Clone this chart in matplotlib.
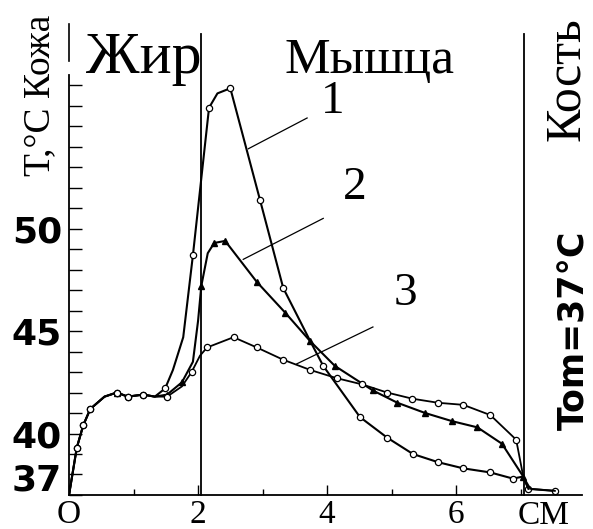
import matplotlib
matplotlib.use("Agg")
import matplotlib.pyplot as plt
from matplotlib.transforms import ScaledTranslation

# depth, cm  /  temperature, C
x1 = [0, 0.12, 0.22, 0.33, 0.55, 0.74, 0.91, 1.15, 1.33, 1.49, 1.61, 1.77, 1.92, 2.17, 2.3, 2.5,
      2.96, 3.32, 3.74, 3.94, 4.51, 4.93, 5.33, 5.72, 6.11, 6.53, 6.88, 7.04, 7.12, 7.53]
t1 = [37, 39.3, 40.4, 41.2, 41.8, 42.0, 41.8, 41.9, 41.8, 42.2, 43.1, 44.7, 48.7, 55.9, 56.6, 56.85,
      51.4, 47.1, 44.5, 43.3, 40.8, 39.8, 39.0, 38.6, 38.3, 38.1, 37.8, 37.9, 37.3, 37.2]
marks1 = [1, 2, 3, 5, 6, 7, 9, 12, 13, 15, 16, 17, 19, 20, 21, 22, 23, 24, 25, 26, 28, 29]

x2 = [0, 0.12, 0.22, 0.33, 0.55, 0.74, 0.91, 1.15, 1.33, 1.52, 1.75, 1.92, 2.0, 2.05, 2.15,
      2.25, 2.42, 2.91, 3.35, 3.74, 4.12, 4.71, 5.09, 5.52, 5.94, 6.33, 6.71, 7.04, 7.12]
t2 = [37, 39.3, 40.4, 41.2, 41.8, 42.0, 41.8, 41.9, 41.8, 41.9, 42.5, 43.5, 45.5, 47.2, 48.8,
      49.3, 49.4, 47.4, 45.9, 44.5, 43.3, 42.1, 41.5, 41.0, 40.6, 40.3, 39.5, 37.9, 37.3]
marks2 = [5, 9, 10, 13, 15, 16, 17, 18, 19, 20, 21, 22, 23, 24, 25, 26, 27]

x3 = [0, 0.12, 0.22, 0.33, 0.55, 0.74, 0.91, 1.15, 1.33, 1.52, 1.75, 1.9, 2.03, 2.14, 2.55,
      2.91, 3.32, 3.74, 4.15, 4.54, 4.93, 5.32, 5.72, 6.11, 6.53, 6.93, 7.04, 7.15, 7.53]
t3 = [37, 39.3, 40.4, 41.2, 41.8, 42.0, 41.8, 41.9, 41.8, 41.8, 42.3, 43.0, 43.8, 44.2, 44.7,
      44.2, 43.6, 43.1, 42.7, 42.4, 42.0, 41.7, 41.5, 41.4, 40.9, 39.7, 37.9, 37.3, 37.2]
marks3 = [1, 2, 3, 5, 6, 7, 9, 11, 13, 14, 15, 16, 17, 18, 19, 20, 21, 22, 23, 24, 25]

layer_bounds = [2.05, 7.05]
layer_names = ["Жир", "Мышца", "Кость"]
curve_ids = ["1", "2", "3"]

# leader lines for the curve numbers
leaders = [([2.78, 3.69], [53.9, 55.4]),
           ([2.70, 3.94], [48.5, 50.5]),
           ([3.53, 4.71], [43.4, 45.2])]
id_pos = [(4.09, 56.2), (4.43, 52.0), (5.21, 46.8)]

serif = "Liberation Serif"

fig = plt.figure(figsize=(5.93, 5.29), dpi=100)
ax = fig.add_axes([0.1164, 0.0643, 0.865, 0.794])

ax.plot(x1, t1, color="black", lw=1.5, marker="o", ms=4.5, mfc="white", mec="black", mew=0.9,
        markevery=marks1)
ax.plot(x2, t2, color="black", lw=1.5, marker="^", ms=5, mfc="black", mec="black",
        markevery=marks2)
ax.plot(x3, t3, color="black", lw=1.3, marker="o", ms=4.5, mfc="white", mec="black", mew=0.9,
        markevery=marks3)

for b in layer_bounds:
    ax.plot([b, b], [37, 59.5], color="black", lw=1.3, clip_on=False)
ax.plot([0, 0], [58.2, 60.0], color="black", lw=1.2, clip_on=False)

for (lx, lt), cid, (px, pt) in zip(leaders, curve_ids, id_pos):
    ax.plot(lx, lt, color="black", lw=0.9)
    ax.text(px, pt, cid, fontsize=34, family=serif, ha="center", va="center")

ax.set_xlim(0, 7.95)
ax.set_ylim(37, 57.5)
for s in ["top", "right"]:
    ax.spines[s].set_visible(False)
ax.spines["left"].set_linewidth(1.3)
ax.spines["bottom"].set_linewidth(1.3)

ax.set_yticks([37, 40, 45, 50])
ax.set_yticklabels(["37", "40", "45", "50"], fontsize=26, fontweight="bold", family="DejaVu Sans")
ax.set_yticks(range(38, 58), minor=True)
ax.tick_params(axis="y", which="both", direction="in", length=9, width=1.0, pad=5)
# the "37" label sits a little above the x axis
lab37 = ax.get_yticklabels()[0]
lab37.set_transform(lab37.get_transform() + ScaledTranslation(0, 13 / 72, fig.dpi_scale_trans))

ax.set_xticks([0, 2, 4, 6])
ax.set_xticklabels(["O", "2", "4", "6"], fontsize=24, family=serif)
ax.set_xticks([1, 3, 5, 7], minor=True)
ax.tick_params(axis="x", which="major", direction="in", length=7, width=1.0, pad=3)
ax.tick_params(axis="x", which="minor", direction="in", length=4, width=1.0)
ax.text(7.36, -0.012, "СМ", transform=ax.get_xaxis_transform(), fontsize=24, family=serif,
        ha="center", va="top")

ax.text(1.16, 57.6, layer_names[0], fontsize=43, family=serif, ha="center", va="baseline",
        clip_on=False)
ax.text(4.65, 57.6, layer_names[1], fontsize=37, family=serif, ha="center", va="baseline",
        clip_on=False)
ax.text(7.72, 57.3, layer_names[2], fontsize=36, family=serif, rotation=90, ha="center",
        va="center", clip_on=False)
ax.text(-0.45, 56.5, "Т,°С Кожа", fontsize=27, family=serif, rotation=90, ha="center",
        va="center", clip_on=False)
ax.text(7.83, 45.05, "Tom=37°C", fontsize=25, fontweight="bold", family="DejaVu Sans",
        rotation=90, ha="center", va="center", clip_on=False)

fig.savefig("out.png", dpi=100)
